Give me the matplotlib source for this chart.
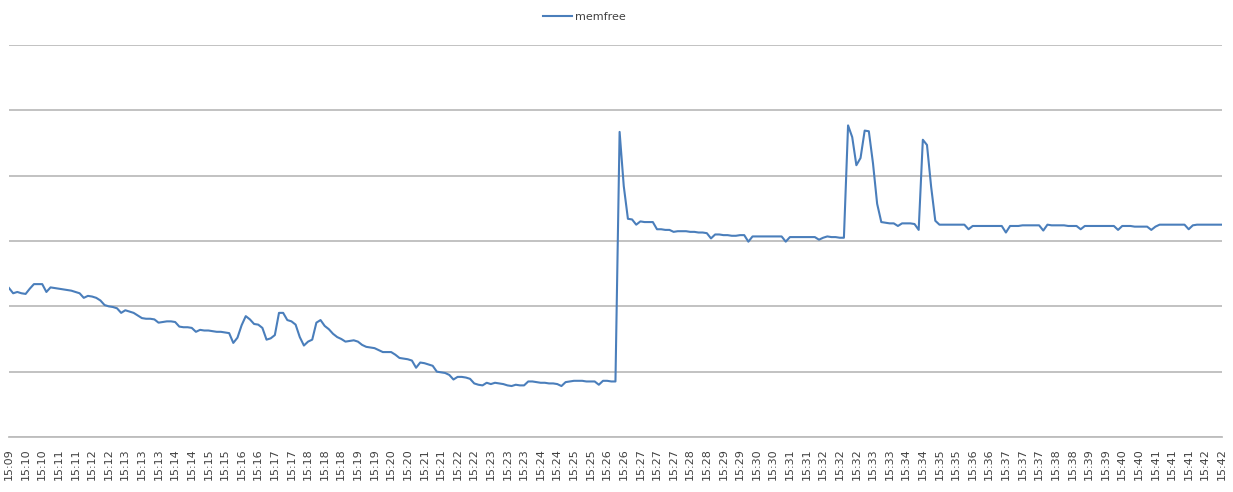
"""
memfree over time, Excel-style line chart.
"""
import matplotlib
matplotlib.use("Agg")
import matplotlib.pyplot as plt

LINE = "#4A7EBB"
GRID = "#BDBDBD"
TEXT = "#404040"

series_name = "memfree"

memfree = [
    228, 220, 222, 220, 219, 227, 234, 234, 234, 222,
    229, 228, 227, 226, 225, 224, 222, 220, 213, 216,
    215, 213, 209, 202, 200, 199, 197, 190, 194, 192,
    190, 186, 182, 181, 181, 180, 175, 176, 177, 177,
    176, 169, 168, 168, 167, 161, 164, 163, 163, 162,
    161, 161, 160, 159, 144, 152, 171, 185, 180, 173,
    172, 167, 149, 151, 156, 190, 190, 179, 177, 172,
    153, 140, 146, 149, 175, 179, 170, 165, 158, 153,
    150, 146, 147, 148, 146, 141, 138, 137, 136, 133,
    130, 130, 130, 126, 121, 120, 119, 117, 106, 114,
    113, 111, 109, 100, 99, 98, 95, 88, 92, 92,
    91, 89, 82, 80, 79, 83, 81, 83, 82, 81,
    79, 78, 80, 79, 79, 85, 85, 84, 83, 83,
    82, 82, 81, 78, 84, 85, 86, 86, 86, 85,
    85, 85, 80, 86, 86, 85, 85, 467, 384, 334,
    333, 325, 330, 329, 329, 329, 318, 318, 317, 317,
    314, 315, 315, 315, 314, 314, 313, 313, 312, 304,
    310, 310, 309, 309, 308, 308, 309, 309, 299, 307,
    307, 307, 307, 307, 307, 307, 307, 299, 306, 306,
    306, 306, 306, 306, 306, 302, 305, 307, 306, 306,
    305, 305, 477, 459, 416, 427, 469, 468, 419, 357,
    329, 328, 327, 327, 323, 327, 327, 327, 326, 317,
    455, 447, 383, 331, 325, 325, 325, 325, 325, 325,
    325, 318, 323, 323, 323, 323, 323, 323, 323, 323,
    313, 323, 323, 323, 324, 324, 324, 324, 324, 316,
    325, 324, 324, 324, 324, 323, 323, 323, 318, 323,
    323, 323, 323, 323, 323, 323, 323, 317, 323, 323,
    323, 322, 322, 322, 322, 317, 322, 325, 325, 325,
    325, 325, 325, 325, 318, 324, 325, 325, 325, 325,
    325, 325, 325,
]

tick_labels = [
    "15:09", "15:10", "15:10", "15:11", "15:11", "15:12", "15:12", "15:13",
    "15:13", "15:13", "15:14", "15:14", "15:15", "15:15", "15:16", "15:16",
    "15:17", "15:17", "15:18", "15:18", "15:18", "15:19", "15:19", "15:20",
    "15:20", "15:21", "15:21", "15:22", "15:22", "15:23", "15:23", "15:23",
    "15:24", "15:24", "15:25", "15:25", "15:26", "15:26", "15:27", "15:27",
    "15:27", "15:28", "15:28", "15:29", "15:29", "15:30", "15:30", "15:31",
    "15:31", "15:32", "15:32", "15:32", "15:33", "15:33", "15:34", "15:34",
    "15:35", "15:35", "15:36", "15:36", "15:37", "15:37", "15:37", "15:38",
    "15:38", "15:39", "15:39", "15:40", "15:40", "15:41", "15:41", "15:41",
    "15:42", "15:42",
]
samples_per_label = 4

fig = plt.figure(figsize=(12.33, 4.92), dpi=100)
fig.patch.set_facecolor("white")
ax = fig.add_axes([0.0073, 0.1118, 0.9837, 0.7967])

x = list(range(len(memfree)))
ax.plot(x, memfree, color=LINE, lw=1.5, label=series_name, solid_joinstyle="round")

ax.set_xlim(0, len(memfree) - 1)
ax.set_ylim(0, 600)
ax.set_yticks(range(0, 601, 100))
ax.yaxis.grid(True, color=GRID, lw=1.3)
ax.set_axisbelow(True)
ax.tick_params(axis="y", left=False, labelleft=False)

ax.set_xticks(range(0, len(memfree), samples_per_label))
ax.set_xticklabels(tick_labels, rotation=90, fontsize=8, color=TEXT)
ax.tick_params(axis="x", length=0, pad=8)

for side in ("left", "top", "right"):
    ax.spines[side].set_visible(False)
ax.spines["bottom"].set_color(GRID)
ax.spines["bottom"].set_linewidth(1.3)

fig.legend(loc="center", bbox_to_anchor=(0.474, 0.965), frameon=False,
           fontsize=8, handlelength=2.6, handletextpad=0.3, labelcolor=TEXT)

fig.savefig("out.png", dpi=100, facecolor="white")
